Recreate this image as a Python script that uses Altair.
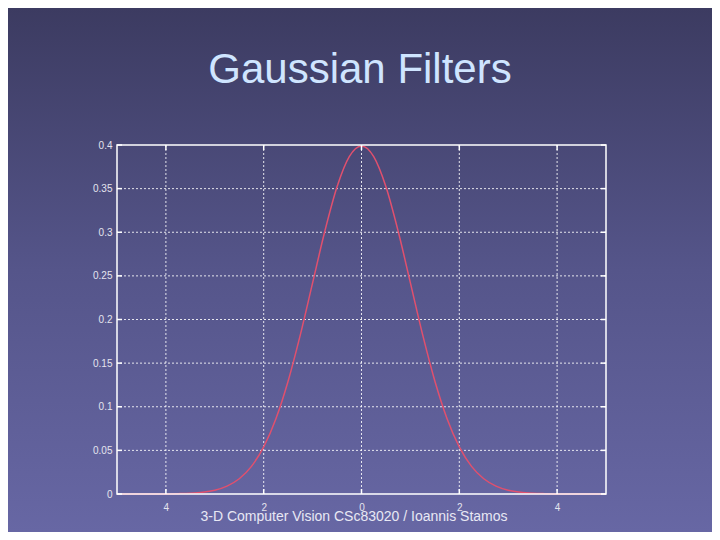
import altair as alt
import pandas as pd

# ---- data ----
xs = [-5.0, -4.75, -4.5, -4.25, -4.0, -3.75, -3.5, -3.25, -3.0, -2.75, -2.5, -2.25,
      -2.0, -1.75, -1.5, -1.25, -1.0, -0.75, -0.5, -0.25, 0.0, 0.25, 0.5, 0.75,
      1.0, 1.25, 1.5, 1.75, 2.0, 2.25, 2.5, 2.75, 3.0, 3.25, 3.5, 3.75, 4.0,
      4.25, 4.5, 4.75, 5.0]
ys = [0.0, 0.0, 0.0, 0.0001, 0.0001, 0.0004, 0.0009, 0.0020, 0.0044, 0.0091, 0.0175, 0.0317,
      0.0540, 0.0863, 0.1295, 0.1826, 0.2420, 0.3011, 0.3521, 0.3867, 0.3989, 0.3867, 0.3521, 0.3011,
      0.2420, 0.1826, 0.1295, 0.0863, 0.0540, 0.0317, 0.0175, 0.0091, 0.0044, 0.0020, 0.0009, 0.0004, 0.0001,
      0.0001, 0.0, 0.0, 0.0]
x_ticks = [-4, -2, 0, 2, 4]
y_ticks = [0, 0.05, 0.1, 0.15, 0.2, 0.25, 0.3, 0.35, 0.4]
title_text = "Gaussian Filters"
footer_text = "3-D Computer Vision CSc83020 / Ioannis Stamos"

W, H = 489, 349
PAD = {"left": 109, "top": 137, "right": 106, "bottom": 38}

curve_df = pd.DataFrame({"x": xs, "y": ys})
xt_df = pd.DataFrame({"x": x_ticks})
yt_df = pd.DataFrame({"y": y_ticks})
yg_df = pd.DataFrame({"y": y_ticks[1:-1]})
one = pd.DataFrame({"a": [0]})

xscale = alt.Scale(domain=[-5, 5], nice=False)
yscale = alt.Scale(domain=[0, 0.4], nice=False, zero=False)

x_axis = alt.Axis(
    values=x_ticks, labelExpr="format(abs(datum.value), 'd')", title=None,
    grid=False, ticks=False, tickSize=0, domain=False, labelPadding=8,
    labelFontSize=10, labelColor="#e4e4ee", labelFont="Liberation Sans", zindex=1)
y_axis = alt.Axis(
    values=y_ticks, format=".2~f", title=None,
    grid=False, ticks=False, tickSize=0, domain=False, labelPadding=5,
    labelFontSize=10, labelColor="#e4e4ee", labelFont="Liberation Sans", zindex=1)

X = alt.X("x:Q", scale=xscale, axis=x_axis)
Y = alt.Y("y:Q", scale=yscale, axis=y_axis)

grad = alt.Gradient(
    gradient="linear",
    stops=[alt.GradientStop(color="#3c3b61", offset=0),
           alt.GradientStop(color="#55558a", offset=0.5),
           alt.GradientStop(color="#6767a4", offset=1)],
    x1=0, x2=0, y1=0, y2=1,
)

bg = alt.Chart(one).mark_rect(fill=grad, strokeWidth=0).encode(
    x=alt.value(-PAD["left"]), x2=alt.value(W + PAD["right"]),
    y=alt.value(-PAD["top"]), y2=alt.value(H + PAD["bottom"]),
)

grid_style = dict(color="white", strokeDash=[2, 2], strokeWidth=1, opacity=0.85)
vgrid = alt.Chart(xt_df).mark_rule(**grid_style).encode(x=X)
hgrid = alt.Chart(yg_df).mark_rule(**grid_style).encode(y=Y)

curve = alt.Chart(curve_df).mark_line(
    color="#e0506e", strokeWidth=1.5, interpolate="monotone"
).encode(x=X, y=Y)

frame = alt.Chart(one).mark_rect(fillOpacity=0, stroke="white", strokeWidth=1.5).encode(
    x=alt.value(0), x2=alt.value(W), y=alt.value(0), y2=alt.value(H)
)

tick_style = dict(color="white", strokeWidth=1.5)
xt_bottom = alt.Chart(xt_df).mark_rule(**tick_style).encode(
    x=X, y=alt.value(H), y2=alt.value(H - 5))
xt_top = alt.Chart(xt_df).mark_rule(**tick_style).encode(
    x=X, y=alt.value(0), y2=alt.value(5))
yt_left = alt.Chart(yt_df).mark_rule(**tick_style).encode(
    y=Y, x=alt.value(0), x2=alt.value(5))
yt_right = alt.Chart(yt_df).mark_rule(**tick_style).encode(
    y=Y, x=alt.value(W), x2=alt.value(W - 5))

title = alt.Chart(one).mark_text(
    font="Liberation Sans", fontSize=42, color="#cfe5ff", align="center", baseline="alphabetic"
).encode(x=alt.value(243), y=alt.value(-62), text=alt.value(title_text))

footer = alt.Chart(one).mark_text(
    font="Liberation Sans", fontSize=14, color="#e8e8f4", align="center", baseline="alphabetic"
).encode(x=alt.value(237), y=alt.value(376), text=alt.value(footer_text))

chart = alt.layer(
    bg, vgrid, hgrid, curve, frame, xt_bottom, xt_top, yt_left, yt_right, title, footer
).properties(
    width=W, height=H, padding=PAD, autosize=alt.AutoSizeParams(type="none"),
    background="#55558a",
).configure_view(stroke=None)

chart.save("out.html", embed_options={"renderer": "svg", "actions": False})
